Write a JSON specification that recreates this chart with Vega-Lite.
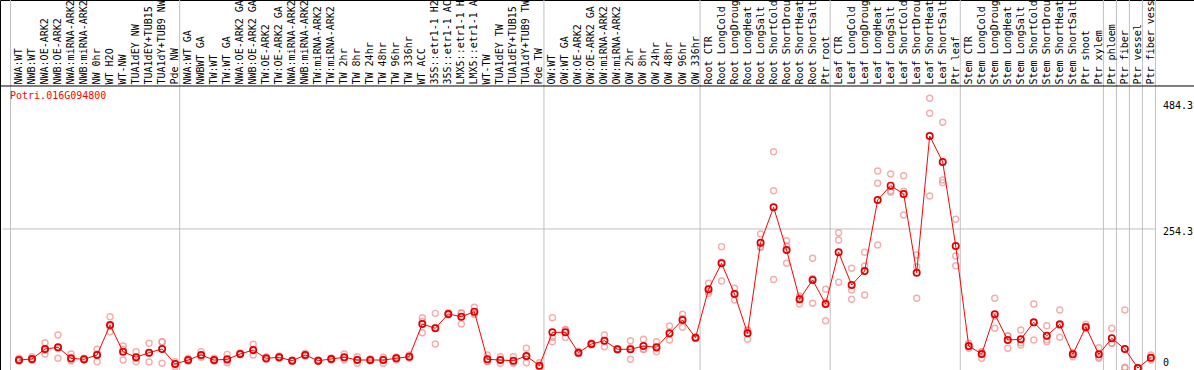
{
  "$schema": "https://vega.github.io/schema/vega-lite/v6.json",
  "width": 1194,
  "height": 370,
  "autosize": {"type": "none"},
  "padding": 0,
  "background": "white",
  "config": {"view": {"stroke": "black", "strokeWidth": 1}, "font": "DejaVu Sans Mono"},
  "datasets": {
    "samples": [
      {"i":1,"s":"NWA:WT","m":14.6,"r1":18,"r2":12.8,"r3":13},
      {"i":2,"s":"NWB:WT","m":16.5,"r1":20.7,"r2":14.6,"r3":14.2},
      {"i":3,"s":"NWA:OE-ARK2","m":34.8,"r1":46.3,"r2":25.6,"r3":32.5},
      {"i":4,"s":"NWB:OE-ARK2","m":37.9,"r1":60.4,"r2":17.7,"r3":35.6},
      {"i":5,"s":"NWA:miRNA-ARK2","m":17.7,"r1":25.6,"r2":14.6,"r3":13},
      {"i":6,"s":"NWB:miRNA-ARK2","m":15.9,"r1":18,"r2":14.6,"r3":15.1},
      {"i":7,"s":"NW 0hr","m":23.8,"r1":34.2,"r2":25.6,"r3":11.5},
      {"i":8,"s":"WT H2O","m":78.7,"r1":93.8,"r2":66.4,"r3":76},
      {"i":9,"s":"WT-NW","m":29.8,"r1":40.2,"r2":14.6,"r3":34.6},
      {"i":10,"s":"TUA1dEY NW","m":19.6,"r1":29.8,"r2":11.5,"r3":17.5},
      {"i":11,"s":"TUA1dEY+TUB15","m":28,"r1":45.2,"r2":11,"r3":27.8},
      {"i":12,"s":"TUA1dY+TUB9 NW","m":34.8,"r1":48.1,"r2":47.7,"r3":8.6},
      {"i":13,"s":"Pde NW","m":7.3,"r1":11.5,"r2":2.4,"r3":8},
      {"i":14,"s":"NWA:WT GA","m":14.6,"r1":17.7,"r2":12.8,"r3":13.3},
      {"i":15,"s":"NWBWT GA","m":23.8,"r1":29.8,"r2":22,"r3":19.6},
      {"i":16,"s":"TW:WT","m":14.6,"r1":17.7,"r2":12.8,"r3":13.3},
      {"i":17,"s":"TW:WT GA","m":15.9,"r1":25,"r2":9.7,"r3":13},
      {"i":18,"s":"NWA:OE-ARK2 GA","m":25.6,"r1":27.4,"r2":24.7,"r3":24.7},
      {"i":19,"s":"NWB:OE-ARK2 GA","m":32.9,"r1":43.4,"r2":23.8,"r3":31.5},
      {"i":20,"s":"TW:OE-ARK2","m":17.7,"r1":20.7,"r2":16.5,"r3":15.9},
      {"i":21,"s":"TW:OE-ARK2 GA","m":19.6,"r1":22,"r2":18.3,"r3":18.5},
      {"i":22,"s":"NWA:miRNA-ARK2","m":13.3,"r1":14.6,"r2":12.8,"r3":12.5},
      {"i":23,"s":"NWB:miRNA-ARK2","m":23.8,"r1":26.9,"r2":22.9,"r3":21.6},
      {"i":24,"s":"TW:miRNA-ARK2","m":13.3,"r1":14.6,"r2":11.9,"r3":13.4},
      {"i":25,"s":"TW:miRNA-ARK2","m":16.5,"r1":18.3,"r2":14.6,"r3":16.6},
      {"i":26,"s":"TW 2hr","m":19.6,"r1":25.6,"r2":14.6,"r3":18.6},
      {"i":27,"s":"TW 8hr","m":14.6,"r1":20.7,"r2":8.6,"r3":14.5},
      {"i":28,"s":"TW 24hr","m":14.6,"r1":16.5,"r2":12.8,"r3":14.5},
      {"i":29,"s":"TW 48hr","m":14.6,"r1":19.6,"r2":8.6,"r3":15.6},
      {"i":30,"s":"TW 96hr","m":17.7,"r1":20.1,"r2":14.6,"r3":18.4},
      {"i":31,"s":"TW 336hr","m":20.7,"r1":23.8,"r2":18.3,"r3":20},
      {"i":32,"s":"WT ACC","m":80.5,"r1":92,"r2":64.6,"r3":85},
      {"i":33,"s":"35S::etr1-1 H2","m":72.6,"r1":100,"r2":43.9,"r3":74},
      {"i":34,"s":"35S::etr1-1 AC","m":98.8,"r1":101,"r2":97,"r3":98.4},
      {"i":35,"s":"LMX5::etr1-1 H","m":93.8,"r1":101,"r2":80.5,"r3":100},
      {"i":36,"s":"LMX5::etr1-1 A","m":103,"r1":111,"r2":100,"r3":98},
      {"i":37,"s":"WT-TW","m":15.9,"r1":23.8,"r2":11.5,"r3":12.4},
      {"i":38,"s":"TUA1dEY TW","m":14.6,"r1":20.7,"r2":8.6,"r3":14.5},
      {"i":39,"s":"TUA1dEY+TUB15","m":13.3,"r1":20.7,"r2":8.6,"r3":10.6},
      {"i":40,"s":"TUA1dY+TUB9 TW","m":22,"r1":36,"r2":20.3,"r3":9.7},
      {"i":41,"s":"Pde TW","m":4.2,"r1":9.7,"r2":1.8,"r3":1.1},
      {"i":42,"s":"OW:WT","m":65.3,"r1":92,"r2":48.1,"r3":55.8},
      {"i":43,"s":"OW:WT GA","m":65.3,"r1":69.5,"r2":56,"r3":70.4},
      {"i":44,"s":"OW:OE-ARK2","m":28,"r1":30.7,"r2":27,"r3":26.3},
      {"i":45,"s":"OW:OE-ARK2 GA","m":43.9,"r1":45.7,"r2":42,"r3":44},
      {"i":46,"s":"OW:miRNA-ARK2","m":49.9,"r1":60.4,"r2":39,"r3":50.3},
      {"i":47,"s":"OW:miRNA-ARK2","m":34.2,"r1":34.8,"r2":32.9,"r3":34.9},
      {"i":48,"s":"OW 2hr","m":34.2,"r1":49.9,"r2":15.9,"r3":36.8},
      {"i":49,"s":"OW 8hr","m":40.2,"r1":52.5,"r2":34.2,"r3":33.9},
      {"i":50,"s":"OW 24hr","m":37.9,"r1":48.1,"r2":29.8,"r3":35.8},
      {"i":51,"s":"OW 48hr","m":63.5,"r1":76.8,"r2":51.2,"r3":62.5},
      {"i":52,"s":"OW 96hr","m":87.8,"r1":98.2,"r2":74.4,"r3":90.8},
      {"i":53,"s":"OW 336hr","m":55.4,"r1":56.7,"r2":53.9,"r3":55.6},
      {"i":54,"s":"Root CTR","m":144,"r1":155,"r2":136.6,"r3":140.4},
      {"i":55,"s":"Root LongCold","m":191.5,"r1":222,"r2":159,"r3":193.5},
      {"i":56,"s":"Root LongDroug","m":135.4,"r1":145.8,"r2":124.4,"r3":136},
      {"i":57,"s":"Root LongHeat","m":63.5,"r1":69.5,"r2":52.5,"r3":68.5},
      {"i":58,"s":"Root LongSalt","m":229.2,"r1":245,"r2":220.8,"r3":221.8},
      {"i":59,"s":"Root ShortCold","m":294,"r1":395.6,"r2":324.3,"r3":162},
      {"i":60,"s":"Root ShortDrou","m":215.8,"r1":232.8,"r2":191.5,"r3":223.1},
      {"i":61,"s":"Root ShortHeat","m":125.7,"r1":131.7,"r2":117,"r3":128.4},
      {"i":62,"s":"Root ShortSalt","m":161,"r1":200.7,"r2":118.3,"r3":164},
      {"i":63,"s":"Ptr root","m":117,"r1":144,"r2":86.5,"r3":120.5},
      {"i":64,"s":"Leaf CTR","m":211.6,"r1":247.5,"r2":234,"r3":156.8},
      {"i":65,"s":"Leaf LongCold","m":151.8,"r1":182.4,"r2":142.7,"r3":125.7},
      {"i":66,"s":"Leaf LongDroug","m":177.4,"r1":211.6,"r2":186.6,"r3":133.5},
      {"i":67,"s":"Leaf LongHeat","m":307.3,"r1":360.3,"r2":337.8,"r3":225},
      {"i":68,"s":"Leaf LongSalt","m":333.5,"r1":354.9,"r2":321.4,"r3":324.2},
      {"i":69,"s":"Leaf ShortCold","m":318.3,"r1":351.7,"r2":279.9,"r3":323.3},
      {"i":70,"s":"Leaf ShortDrou","m":174.3,"r1":206.7,"r2":185.3,"r3":127.5},
      {"i":71,"s":"Leaf ShortHeat","m":424.4,"r1":493.3,"r2":465.9,"r3":314.6},
      {"i":72,"s":"Leaf ShortSalt","m":376.8,"r1":449.4,"r2":343.9,"r3":339},
      {"i":73,"s":"Ptr leaf","m":223.2,"r1":272,"r2":204.9,"r3":187.1},
      {"i":74,"s":"Stem CTR","m":40.2,"r1":45.2,"r2":36,"r3":39.4},
      {"i":75,"s":"Stem LongCold","m":25.6,"r1":17.7,"r2":29.3,"r3":29.8},
      {"i":76,"s":"Stem LongDroug","m":98.2,"r1":127.5,"r2":72.6,"r3":94.5},
      {"i":77,"s":"Stem LongHeat","m":51.2,"r1":58.5,"r2":36,"r3":59.1},
      {"i":78,"s":"Stem LongSalt","m":52.5,"r1":69.5,"r2":42,"r3":46},
      {"i":79,"s":"Stem ShortCold","m":83.6,"r1":117,"r2":51.2,"r3":82.6},
      {"i":80,"s":"Stem ShortDrou","m":59,"r1":77.4,"r2":48.1,"r3":51.5},
      {"i":81,"s":"Stem ShortHeat","m":80,"r1":106,"r2":56.2,"r3":77.8},
      {"i":82,"s":"Stem ShortSalt","m":25,"r1":20.7,"r2":27.4,"r3":26.9},
      {"i":83,"s":"Ptr shoot","m":75,"r1":80,"r2":73,"r3":72},
      {"i":84,"s":"Ptr xylem","m":25,"r1":37.1,"r2":17.7,"r3":20.1},
      {"i":85,"s":"Ptr phloem","m":54.3,"r1":72.6,"r2":45.2,"r3":45.1},
      {"i":86,"s":"Ptr fiber","m":34.8,"r1":106,"r2":1.3,"r3":0},
      {"i":87,"s":"Ptr vessel","m":0,"r1":0,"r2":0,"r3":0},
      {"i":88,"s":"Ptr fiber vess","m":18.8,"r1":23.8,"r2":14.6,"r3":18}
    ],
    "seps": [
      {"x":0.35},{"x":13.35},{"x":41.35},{"x":53.35},{"x":63.35},{"x":73.35},
      {"x":84.35},{"x":85.35},{"x":86.35},{"x":87.35},{"x":88.35}
    ],
    "ticks": [
      {"v":0,"lab":"0"},{"v":254.3,"lab":"254.3"},{"v":484.3,"lab":"484.3"}
    ],
    "one": [{"t":"Potri.016G094800"}]
  },
  "layer": [
    {
      "data": {"name": "seps"},
      "mark": {"type": "rule", "color": "#c0c0c0", "strokeWidth": 1},
      "encoding": {
        "x": {"field": "x", "type": "quantitative", "scale": {"domain": [-0.46, 91.315], "nice": false, "zero": false}, "axis": null}
      }
    },
    {
      "data": {"name": "one"},
      "mark": {"type": "rule", "color": "#c0c0c0", "strokeWidth": 1},
      "encoding": {
        "x": {"datum": -0.25, "type": "quantitative", "scale": {"domain": [-0.46, 91.315], "nice": false, "zero": false}, "axis": null},
        "x2": {"datum": 88.35},
        "y": {"datum": 254.3, "type": "quantitative", "scale": {"domain": [-3.66, 673.1], "nice": false, "zero": false}, "axis": null}
      }
    },
    {
      "data": {"name": "one"},
      "mark": {"type": "rule", "color": "black", "strokeWidth": 1},
      "encoding": {
        "y": {"datum": 515.8, "type": "quantitative", "scale": {"domain": [-3.66, 673.1], "nice": false, "zero": false}, "axis": null}
      }
    },
    {
      "data": {"name": "samples"},
      "transform": [{"fold": ["r1", "r2", "r3"], "as": ["rep", "v"]}],
      "mark": {"type": "point", "shape": "circle", "filled": false, "size": 36, "strokeWidth": 1.4, "color": "#ee8c8c"},
      "encoding": {
        "x": {"field": "i", "type": "quantitative", "scale": {"domain": [-0.46, 91.315], "nice": false, "zero": false}, "axis": null},
        "y": {"field": "v", "type": "quantitative", "scale": {"domain": [-3.66, 673.1], "nice": false, "zero": false}, "axis": null}
      }
    },
    {
      "data": {"name": "samples"},
      "mark": {"type": "line", "color": "#ff0000", "strokeWidth": 1},
      "encoding": {
        "x": {"field": "i", "type": "quantitative", "scale": {"domain": [-0.46, 91.315], "nice": false, "zero": false}, "axis": null},
        "y": {"field": "m", "type": "quantitative", "scale": {"domain": [-3.66, 673.1], "nice": false, "zero": false}, "axis": null}
      }
    },
    {
      "data": {"name": "samples"},
      "mark": {"type": "point", "shape": "circle", "filled": false, "size": 40, "strokeWidth": 1.7, "color": "#e00000", "opacity": 1},
      "encoding": {
        "x": {"field": "i", "type": "quantitative", "scale": {"domain": [-0.46, 91.315], "nice": false, "zero": false}, "axis": null},
        "y": {"field": "m", "type": "quantitative", "scale": {"domain": [-3.66, 673.1], "nice": false, "zero": false}, "axis": null}
      }
    },
    {
      "data": {"name": "ticks"},
      "transform": [{"filter": "datum.v > 0"}],
      "mark": {"type": "text", "align": "left", "baseline": "top", "dy": -2, "font": "DejaVu Sans Mono", "fontSize": 10, "color": "black"},
      "encoding": {
        "x": {"datum": 88.93, "type": "quantitative", "scale": {"domain": [-0.46, 91.315], "nice": false, "zero": false}, "axis": null},
        "y": {"field": "v", "type": "quantitative", "scale": {"domain": [-3.66, 673.1], "nice": false, "zero": false}, "axis": null},
        "text": {"field": "lab"}
      }
    },
    {
      "data": {"name": "ticks"},
      "transform": [{"filter": "datum.v == 0"}],
      "mark": {"type": "text", "align": "left", "baseline": "bottom", "dy": 0, "font": "DejaVu Sans Mono", "fontSize": 10, "color": "black"},
      "encoding": {
        "x": {"datum": 88.93, "type": "quantitative", "scale": {"domain": [-0.46, 91.315], "nice": false, "zero": false}, "axis": null},
        "y": {"field": "v", "type": "quantitative", "scale": {"domain": [-3.66, 673.1], "nice": false, "zero": false}, "axis": null},
        "text": {"field": "lab"}
      }
    },
    {
      "data": {"name": "samples"},
      "mark": {"type": "text", "angle": 270, "align": "left", "baseline": "middle", "font": "DejaVu Sans Mono", "fontSize": 10, "color": "black"},
      "encoding": {
        "x": {"field": "i", "type": "quantitative", "scale": {"domain": [-0.46, 91.315], "nice": false, "zero": false}, "axis": null},
        "y": {"datum": 518.6, "type": "quantitative", "scale": {"domain": [-3.66, 673.1], "nice": false, "zero": false}, "axis": null},
        "text": {"field": "s"}
      }
    },
    {
      "data": {"name": "one"},
      "mark": {"type": "text", "align": "left", "baseline": "middle", "font": "DejaVu Sans Mono", "fontSize": 10, "color": "#ff0000"},
      "encoding": {
        "x": {"datum": 0.31, "type": "quantitative", "scale": {"domain": [-0.46, 91.315], "nice": false, "zero": false}, "axis": null},
        "y": {"datum": 497.5, "type": "quantitative", "scale": {"domain": [-3.66, 673.1], "nice": false, "zero": false}, "axis": null},
        "text": {"field": "t"}
      }
    }
  ]
}
